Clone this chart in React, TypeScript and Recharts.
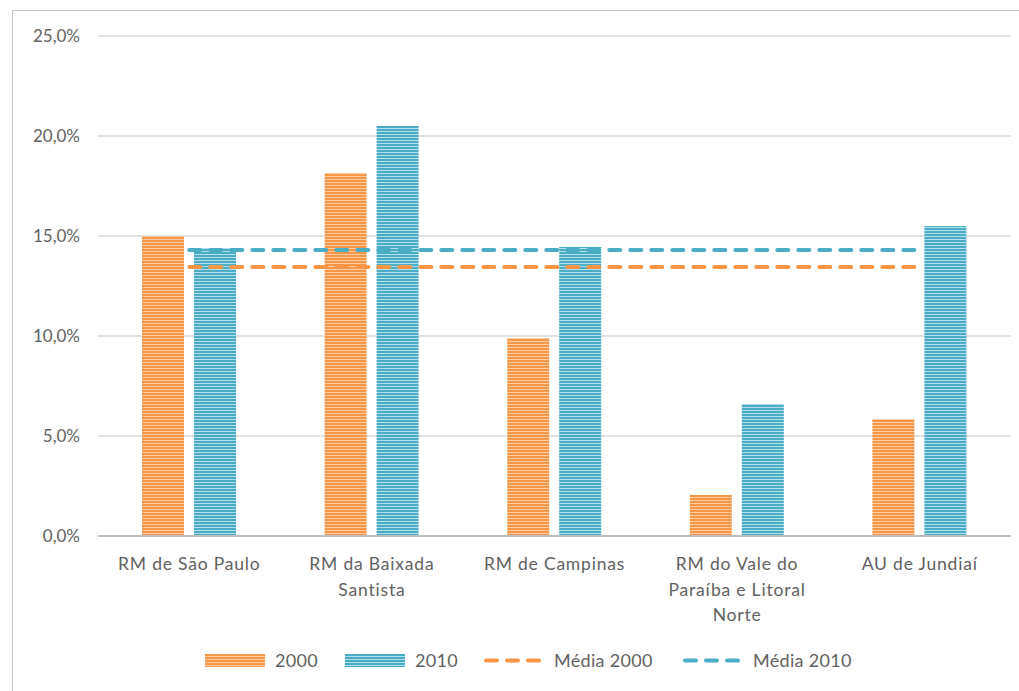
import { ComposedChart, Bar, Line, XAxis, YAxis, CartesianGrid } from 'recharts'

// Share of population per metropolitan region, 2000 vs 2010 (%)
const categories = [
  'RM de São Paulo',
  'RM da Baixada Santista',
  'RM de Campinas',
  'RM do Vale do Paraíba e Litoral Norte',
  'AU de Jundiaí',
]
const tickLines = [
  ['RM de São Paulo'],
  ['RM da Baixada', 'Santista'],
  ['RM de Campinas'],
  ['RM do Vale do', 'Paraíba e Litoral', 'Norte'],
  ['AU de Jundiaí'],
]
const values2000 = [15.0, 18.15, 9.9, 2.05, 5.85]
const values2010 = [14.4, 20.5, 14.45, 6.6, 15.5]
const media2000 = 13.45
const media2010 = 14.3
const yTicks = [0, 5, 10, 15, 20, 25]

const ORANGE = '#F79646'
const ORANGE_LIGHT = '#FCCBA2'
const BLUE = '#4BACC6'
const BLUE_LIGHT = '#B3DDE9'
const TEXT = '#626262'
const FONT = 'Lato, "Open Sans", sans-serif'

const data = categories.map((name, i) => ({
  name,
  v2000: values2000[i],
  v2010: values2010[i],
  media2000,
  media2010,
}))

const fmtPct = (v: number) => `${v.toFixed(1).replace('.', ',')}%`

const StripeDefs = ({ prefix }: { prefix: string }) => (
  <defs>
    <pattern id={`${prefix}-orange`} width="6" height="3" patternUnits="userSpaceOnUse">
      <rect width="6" height="3" fill={ORANGE} />
      <rect y="2" width="6" height="1" fill={ORANGE_LIGHT} />
    </pattern>
    <pattern id={`${prefix}-blue`} width="6" height="3" patternUnits="userSpaceOnUse">
      <rect width="6" height="3" fill={BLUE} />
      <rect y="2" width="6" height="1" fill={BLUE_LIGHT} />
    </pattern>
  </defs>
)

const CategoryTick = ({ x, y, payload }: any) => {
  const lines = tickLines[payload.index] ?? [payload.value]
  return (
    <text
      x={x}
      y={y}
      textAnchor="middle"
      fill={TEXT}
      fontSize={17.5}
      fontFamily={FONT}
      letterSpacing={0.8}
    >
      {lines.map((line, i) => (
        <tspan key={i} x={x} dy={i === 0 ? 26 : 25.5}>
          {line}
        </tspan>
      ))}
    </text>
  )
}

const LegendPatch = ({ fill }: { fill: string }) => (
  <svg width={60} height={13} style={{ marginRight: 10 }}>
    <rect width={60} height={13} fill={fill} />
  </svg>
)

const LegendDash = ({ color }: { color: string }) => (
  <svg width={58} height={13} style={{ marginRight: 12 }}>
    <line x1={2} x2={56} y1={6.5} y2={6.5} stroke={color} strokeWidth={4} strokeLinecap="round" strokeDasharray="11 10" />
  </svg>
)

function ChartLegend() {
  const item = (left: number): React.CSSProperties => ({
    position: 'absolute',
    left,
    top: 0,
    display: 'flex',
    alignItems: 'center',
    whiteSpace: 'nowrap',
  })
  return (
    <div
      style={{
        position: 'absolute',
        top: 649,
        left: 0,
        width: 1019,
        height: 24,
        fontFamily: FONT,
        fontSize: 18,
        letterSpacing: 0.3,
        color: TEXT,
      }}
    >
      <svg width={0} height={0} style={{ position: 'absolute' }}>
        <StripeDefs prefix="lg" />
      </svg>
      <div style={item(205)}>
        <LegendPatch fill="url(#lg-orange)" />
        2000
      </div>
      <div style={item(345)}>
        <LegendPatch fill="url(#lg-blue)" />
        2010
      </div>
      <div style={item(484)}>
        <LegendDash color={ORANGE} />
        Média 2000
      </div>
      <div style={item(683)}>
        <LegendDash color={BLUE} />
        Média 2010
      </div>
    </div>
  )
}

export default function App() {
  return (
    <div
      style={{
        position: 'absolute',
        left: 0,
        top: 0,
        width: 1019,
        height: 691,
        overflow: 'hidden',
        background: '#fff',
      }}
    >
      <div
        style={{
          position: 'absolute',
          left: 12,
          top: 10,
          width: 1019,
          height: 700,
          border: '1.5px solid #c4c4c4',
        }}
      />
      <ComposedChart
        width={1019}
        height={691}
        data={data}
        margin={{ top: 36, right: 8, bottom: 0, left: 0 }}
        barGap={10}
        barSize={42}
        style={{ position: 'absolute', left: 0, top: 0 }}
      >
        <StripeDefs prefix="bar" />
        <CartesianGrid vertical={false} stroke="#d9d9d9" strokeWidth={1.5} />
        <XAxis
          dataKey="name"
          height={155}
          axisLine={{ stroke: '#bfbfbf', strokeWidth: 2 }}
          tickLine={false}
          tick={<CategoryTick />}
          interval={0}
        />
        <YAxis
          width={98}
          domain={[0, 25]}
          ticks={yTicks}
          tickFormatter={fmtPct}
          axisLine={false}
          tickLine={false}
          tickSize={0}
          tickMargin={18}
          tick={{ fill: TEXT, fontSize: 17, fontFamily: FONT }}
        />
        <Bar dataKey="v2000" fill="url(#bar-orange)" isAnimationActive={false} />
        <Bar dataKey="v2010" fill="url(#bar-blue)" isAnimationActive={false} />
        <Line
          dataKey="media2000"
          stroke={ORANGE}
          strokeWidth={4}
          strokeLinecap="round"
          strokeDasharray="11 10"
          dot={false}
          activeDot={false}
          isAnimationActive={false}
        />
        <Line
          dataKey="media2010"
          stroke={BLUE}
          strokeWidth={4}
          strokeLinecap="round"
          strokeDasharray="11 10"
          dot={false}
          activeDot={false}
          isAnimationActive={false}
        />
      </ComposedChart>
      <ChartLegend />
    </div>
  )
}
